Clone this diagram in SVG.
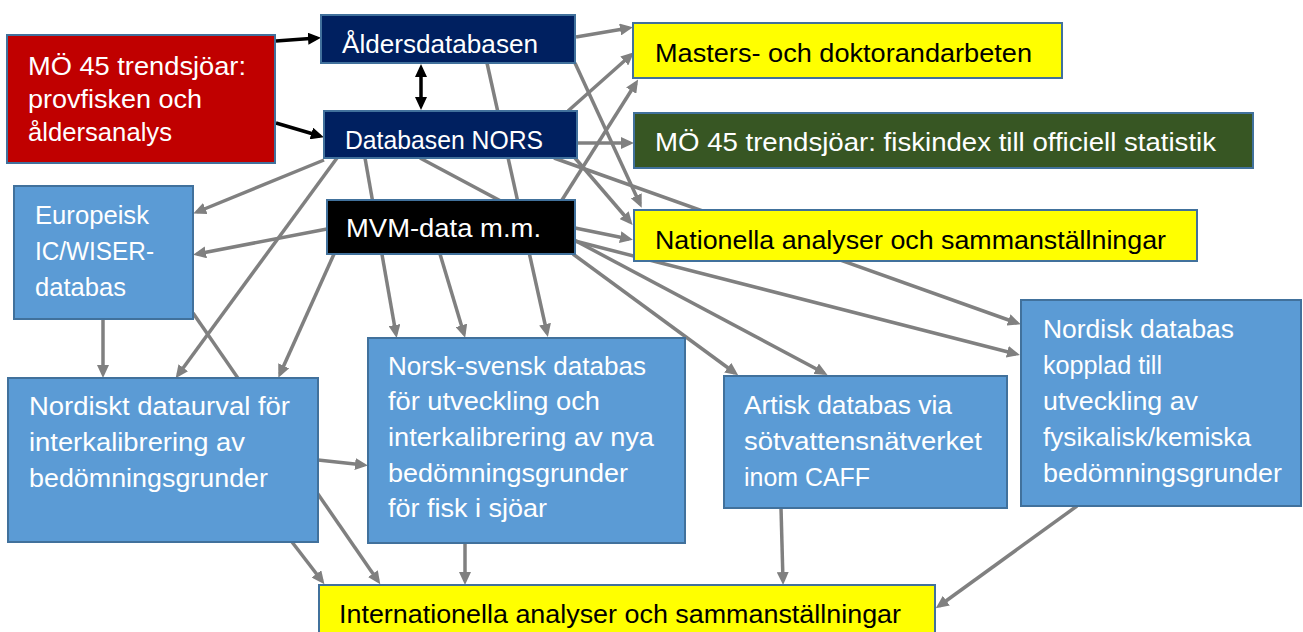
<svg xmlns="http://www.w3.org/2000/svg" width="1303" height="632" viewBox="0 0 1303 632">
<style>
text{font-family:"Liberation Sans",Arial,sans-serif;font-size:25px}
.w{fill:#ffffff}
.k{fill:#000000}
.bx{stroke:#41719C;stroke-width:2}
.g{stroke:#808080;stroke-width:3.5;fill:none;marker-end:url(#ag)}
.b{stroke:#000000;stroke-width:3.5;fill:none;marker-end:url(#ab)}
</style>
<defs>
<marker id="ag" viewBox="0 0 13 12" refX="9" refY="6" markerWidth="13" markerHeight="12" markerUnits="userSpaceOnUse" orient="auto-start-reverse">
<path d="M0,0 L13,6 L0,12 z" fill="#808080"/>
</marker>
<marker id="ab" viewBox="0 0 13 12" refX="9" refY="6" markerWidth="13" markerHeight="12" markerUnits="userSpaceOnUse" orient="auto-start-reverse">
<path d="M0,0 L13,6 L0,12 z" fill="#000000"/>
</marker>
</defs>
<rect width="1303" height="632" fill="#ffffff"/>
<g id="connectors">
<line class="b" x1="276" y1="41" x2="317" y2="38"/>
<line class="b" x1="276" y1="123" x2="320" y2="136"/>
<line class="b" x1="421" y1="68" x2="421" y2="106" marker-start="url(#ab)"/>
<line class="g" x1="576" y1="37" x2="629" y2="28"/>
<line class="g" x1="575" y1="63" x2="640" y2="204"/>
<line class="g" x1="487" y1="63" x2="547" y2="333"/>
<line class="g" x1="568" y1="111" x2="631" y2="55"/>
<line class="g" x1="577" y1="143" x2="630" y2="143"/>
<line class="g" x1="575" y1="158" x2="630" y2="222"/>
<line class="g" x1="554" y1="158" x2="1017" y2="323"/>
<line class="g" x1="324" y1="160" x2="197" y2="212"/>
<line class="g" x1="337" y1="158" x2="178" y2="375"/>
<line class="g" x1="365" y1="158" x2="396" y2="334"/>
<line class="g" x1="420" y1="158" x2="824" y2="373"/>
<line class="g" x1="327" y1="229" x2="197" y2="254"/>
<line class="g" x1="334" y1="254" x2="280" y2="374"/>
<line class="g" x1="440" y1="254" x2="464" y2="334"/>
<line class="g" x1="562" y1="200" x2="636" y2="83"/>
<line class="g" x1="575" y1="228" x2="629" y2="239"/>
<line class="g" x1="575" y1="241" x2="1016" y2="354"/>
<line class="g" x1="573" y1="254" x2="735" y2="373"/>
<line class="g" x1="103" y1="319" x2="103" y2="374"/>
<line class="g" x1="193" y1="313" x2="378" y2="581"/>
<line class="g" x1="318" y1="460" x2="364" y2="465"/>
<line class="g" x1="292" y1="542" x2="322" y2="581"/>
<line class="g" x1="465" y1="543" x2="465" y2="581"/>
<line class="g" x1="781" y1="508" x2="783" y2="581"/>
<line class="g" x1="1077" y1="506" x2="939" y2="606"/>
</g>
<g id="n-red">
<rect class="bx" x="7" y="35" width="268" height="128" fill="#C00000"/>
<text class="w" x="28" y="75" textLength="218" lengthAdjust="spacingAndGlyphs">MÖ 45 trendsjöar:</text>
<text class="w" x="28" y="108" textLength="174" lengthAdjust="spacingAndGlyphs">provfisken och</text>
<text class="w" x="28" y="141" textLength="144" lengthAdjust="spacingAndGlyphs">åldersanalys</text>
</g>
<g id="n-alders">
<rect class="bx" x="321" y="15" width="254" height="48" fill="#002060"/>
<text class="w" x="342" y="53" textLength="196" lengthAdjust="spacingAndGlyphs">Åldersdatabasen</text>
</g>
<g id="n-nors">
<rect class="bx" x="324" y="111" width="253" height="47" fill="#002060"/>
<text class="w" x="345" y="149" textLength="198" lengthAdjust="spacingAndGlyphs">Databasen NORS</text>
</g>
<g id="n-masters">
<rect class="bx" x="633" y="23" width="429" height="55" fill="#FFFF00"/>
<text class="k" x="655" y="62" textLength="377" lengthAdjust="spacingAndGlyphs">Masters- och doktorandarbeten</text>
</g>
<g id="n-fiskindex">
<rect class="bx" x="634" y="113" width="619" height="55" fill="#375623"/>
<text class="w" x="655" y="151" textLength="561" lengthAdjust="spacingAndGlyphs">MÖ 45 trendsjöar: fiskindex till officiell statistik</text>
</g>
<g id="n-mvm">
<rect class="bx" x="327" y="200" width="248" height="54" fill="#000000"/>
<text class="w" x="346" y="237" textLength="195" lengthAdjust="spacingAndGlyphs">MVM-data m.m.</text>
</g>
<g id="n-nationella">
<rect class="bx" x="634" y="210" width="563" height="51" fill="#FFFF00"/>
<text class="k" x="655" y="249" textLength="511" lengthAdjust="spacingAndGlyphs">Nationella analyser och sammanställningar</text>
</g>
<g id="n-europeisk">
<rect class="bx" x="14" y="186" width="179" height="133" fill="#5B9BD5"/>
<text class="w" x="35" y="224" textLength="114" lengthAdjust="spacingAndGlyphs">Europeisk</text>
<text class="w" x="35" y="260" textLength="119" lengthAdjust="spacingAndGlyphs">IC/WISER-</text>
<text class="w" x="35" y="296" textLength="91" lengthAdjust="spacingAndGlyphs">databas</text>
</g>
<g id="n-nordiskt">
<rect class="bx" x="8" y="378" width="310" height="164" fill="#5B9BD5"/>
<text class="w" x="29" y="415" textLength="261" lengthAdjust="spacingAndGlyphs">Nordiskt dataurval för</text>
<text class="w" x="29" y="451" textLength="216" lengthAdjust="spacingAndGlyphs">interkalibrering av</text>
<text class="w" x="29" y="487" textLength="239" lengthAdjust="spacingAndGlyphs">bedömningsgrunder</text>
</g>
<g id="n-norsk">
<rect class="bx" x="368" y="338" width="317" height="205" fill="#5B9BD5"/>
<text class="w" x="388" y="375" textLength="258" lengthAdjust="spacingAndGlyphs">Norsk-svensk databas</text>
<text class="w" x="388" y="410" textLength="212" lengthAdjust="spacingAndGlyphs">för utveckling och</text>
<text class="w" x="388" y="446" textLength="266" lengthAdjust="spacingAndGlyphs">interkalibrering av nya</text>
<text class="w" x="388" y="482" textLength="240" lengthAdjust="spacingAndGlyphs">bedömningsgrunder</text>
<text class="w" x="388" y="517" textLength="159" lengthAdjust="spacingAndGlyphs">för fisk i sjöar</text>
</g>
<g id="n-artisk">
<rect class="bx" x="724" y="376" width="283" height="132" fill="#5B9BD5"/>
<text class="w" x="744" y="414" textLength="208" lengthAdjust="spacingAndGlyphs">Artisk databas via</text>
<text class="w" x="744" y="450" textLength="238" lengthAdjust="spacingAndGlyphs">sötvattensnätverket</text>
<text class="w" x="744" y="486" textLength="126" lengthAdjust="spacingAndGlyphs">inom CAFF</text>
</g>
<g id="n-nordisk">
<rect class="bx" x="1021" y="300" width="280" height="206" fill="#5B9BD5"/>
<text class="w" x="1043" y="338" textLength="191" lengthAdjust="spacingAndGlyphs">Nordisk databas</text>
<text class="w" x="1043" y="374" textLength="119" lengthAdjust="spacingAndGlyphs">kopplad till</text>
<text class="w" x="1043" y="410" textLength="155" lengthAdjust="spacingAndGlyphs">utveckling av</text>
<text class="w" x="1043" y="446" textLength="208" lengthAdjust="spacingAndGlyphs">fysikalisk/kemiska</text>
<text class="w" x="1043" y="482" textLength="239" lengthAdjust="spacingAndGlyphs">bedömningsgrunder</text>
</g>
<g id="n-internationella">
<rect class="bx" x="319" y="585" width="616" height="60" fill="#FFFF00"/>
<text class="k" x="339" y="623" textLength="562" lengthAdjust="spacingAndGlyphs">Internationella analyser och sammanställningar</text>
</g>
</svg>
